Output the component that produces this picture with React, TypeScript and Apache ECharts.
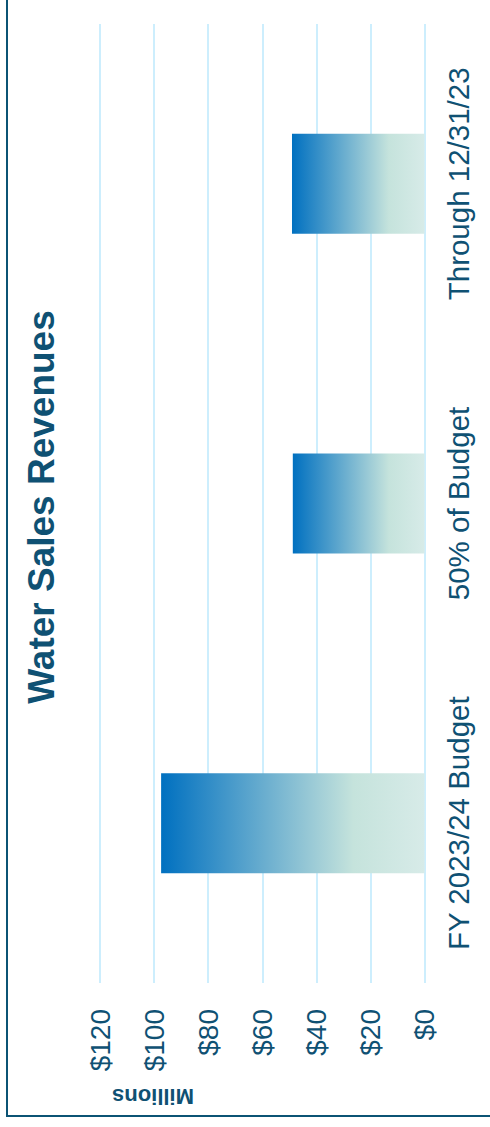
import React, { useEffect, useRef } from "react";
import * as echarts from "echarts";

const categories = ["FY 2023/24 Budget", "50% of Budget", "Through 12/31/23"];
const values = [97.4, 48.7, 49.0];
const tickMin = 0;
const tickMax = 120;
const tickStep = 20;
const titleText = "Water Sales Revenues";
const unitText = "Millions";

const TEXT = "#0F5173";
const FONT = "'Liberation Sans', Arial, sans-serif";

export default function App() {
  const ref = useRef<HTMLDivElement>(null);
  useEffect(() => {
    if (!ref.current) return;
    const chart = echarts.init(ref.current, null, { renderer: "svg" });
    chart.setOption({
      animation: false,
      backgroundColor: "#ffffff",
      grid: { left: 100, right: 65.5, top: 24, bottom: 144, containLabel: false },
      xAxis: {
        type: "value",
        inverse: true,
        min: tickMin,
        max: tickMax,
        interval: tickStep,
        axisLine: { show: false },
        axisTick: { show: false },
        splitLine: { show: true, lineStyle: { color: "#CDEEFD", width: 2 } },
        axisLabel: {
          rotate: 90,
          margin: 26,
          fontSize: 28,
          fontFamily: FONT,
          color: TEXT,
          formatter: (v: number) => "$" + v,
        },
      },
      yAxis: {
        type: "category",
        position: "right",
        data: categories,
        axisLine: { show: false },
        axisTick: { show: false },
        splitLine: { show: false },
        axisLabel: {
          interval: 0,
          rotate: 90,
          margin: 19,
          fontSize: 29.5,
          fontFamily: FONT,
          color: TEXT,
        },
      },
      series: [
        {
          type: "bar",
          data: values,
          barWidth: 100,
          itemStyle: {
            color: new echarts.graphic.LinearGradient(0, 0, 1, 0, [
              { offset: 0, color: "#0070C0" },
              { offset: 0.73, color: "#C5E3DC" },
              { offset: 1, color: "#D7EBE8" },
            ]),
          },
        },
      ],
      graphic: [
        {
          type: "rect",
          shape: { x: 7, y: -10, width: 600, height: 1126 },
          style: { fill: "none", stroke: "#0B5374", lineWidth: 2 },
          silent: true,
        },
        {
          type: "text",
          x: 41,
          y: 507,
          rotation: Math.PI / 2,
          style: {
            text: titleText,
            fill: TEXT,
            font: "bold 37px " + FONT,
            textAlign: "center",
            textVerticalAlign: "middle",
          },
        },
        {
          type: "text",
          x: 153,
          y: 1096,
          rotation: Math.PI,
          style: {
            text: unitText,
            fill: TEXT,
            font: "bold 22px " + FONT,
            textAlign: "center",
            textVerticalAlign: "middle",
          },
        },
      ],
    });
    return () => chart.dispose();
  }, []);
  return (
    <div
      ref={ref}
      style={{ position: "fixed", left: 0, top: 0, width: 490, height: 1127 }}
    />
  );
}
